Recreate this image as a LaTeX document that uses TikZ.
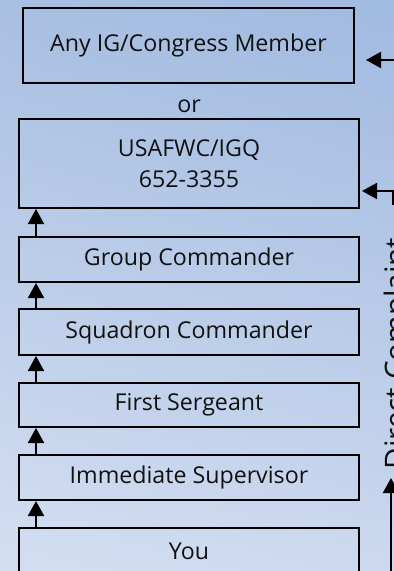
\documentclass[tikz,border=0pt]{standalone}
\usepackage{fontspec}
\setmainfont{Open Sans}
\usetikzlibrary{arrows.meta}
\definecolor{bgtop}{HTML}{A2BBE0}
\definecolor{bgbot}{HTML}{D2DDF1}
\definecolor{txt}{HTML}{111111}
\tikzset{
  box/.style={draw=black, line width=2pt, rectangle, inner sep=0pt, minimum width=340pt,
    font=\fontsize{23.2}{31}\selectfont, text=txt, align=center},
  uparrow/.style={draw=black, line width=2pt, -{Triangle[length=15pt,width=16pt]}},
}
\begin{document}
\begin{tikzpicture}[x=1pt,y=-1pt]
\useasboundingbox (0,0) rectangle (394,571);
\clip (0,0) rectangle (394,571);
\shade[top color=bgtop, bottom color=bgbot, shading angle=-15] (-40,-40) rectangle (434,611);
\node[box, line width=2.4pt, minimum width=331pt, minimum height=75pt] (b1) at (188.5,45.5) {Any IG/Congress Member};
\node[font=\fontsize{23.2}{31}\selectfont, text=txt, inner sep=0pt] (or) at (189,106) {or};
\node[box, minimum height=89pt] (b2) at (189,163.5) {USAFWC/IGQ\\652-3355};
\node[box, minimum height=45pt] (b3) at (189,259.5) {Group Commander};
\node[box, minimum height=46pt] (b4) at (189,332) {Squadron Commander};
\node[box, minimum height=44pt] (b5) at (189,405) {First Sergeant};
\node[box, minimum height=45pt] (b6) at (189,477.5) {Immediate Supervisor};
\node[box, minimum height=46pt] (b7) at (189,551) {You};
\coordinate (ax) at (36,0);
\draw[uparrow] (b7.north -| ax) -- (b6.south -| ax);
\draw[uparrow] (b6.north -| ax) -- (b5.south -| ax);
\draw[uparrow] (b5.north -| ax) -- (b4.south -| ax);
\draw[uparrow] (b4.north -| ax) -- (b3.south -| ax);
\draw[uparrow] (b3.north -| ax) -- (b2.south -| ax);
\node[font=\fontsize{29.6}{36}\selectfont, text=txt, rotate=90, anchor=base, inner sep=0pt] (dc) at (406,353.5) {Direct Complaint};
\coordinate (t1) at (366,60);
\coordinate (s1) at (420,60);
\coordinate (t2) at (362,191);
\coordinate (s2) at (393,205);
\coordinate (t3) at (391,478);
\coordinate (s3) at (391,580);
\draw[uparrow] (s1) -- (t1);
\draw[uparrow] (s2) |- (t2);
\draw[uparrow] (s3) -- (t3);
\end{tikzpicture}
\end{document}
